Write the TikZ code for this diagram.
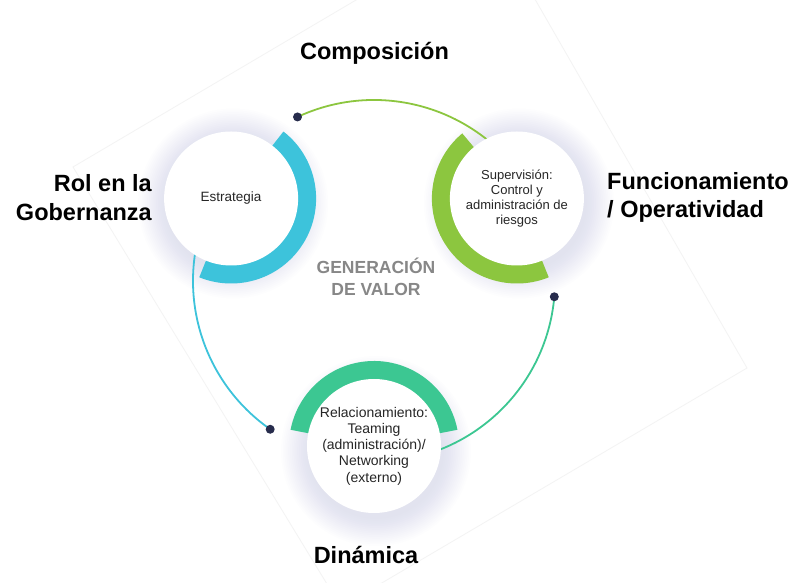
\documentclass[tikz,border=0pt]{standalone}
\usepackage{fontspec}
\setmainfont{Liberation Sans}
\definecolor{ringCyan}{HTML}{3DC3DB}
\definecolor{ringGreen}{HTML}{8CC63F}
\definecolor{ringTeal}{HTML}{3CC792}
\definecolor{dotNavy}{HTML}{272C4C}
\definecolor{glowLav}{HTML}{C9CCEA}
\definecolor{valGray}{HTML}{878787}
\definecolor{frameGray}{HTML}{F3F3F3}
\begin{document}
\begin{tikzpicture}[x=1pt,y=1pt,
  bubble/.style={circle, fill=white, minimum size=134pt, inner sep=0pt, align=center, text=black!85},
  heading/.style={font=\bfseries\fontsize{23.5}{28.5}\selectfont, text=black, inner sep=0pt},
  link/.style={line width=1.8pt},
  dotmark/.style={circle, fill=dotNavy, minimum size=9pt, inner sep=0pt},
]
\useasboundingbox (0,0) rectangle (797,583);
\clip (0,0) rectangle (797,583);
\fill[white] (0,0) rectangle (797,583);
% faint rotated frame
\draw[frameGray, line width=0.8pt] (73,416) -- (490,662) -- (747,215) -- (341,-24) -- cycle;
% geometry
\coordinate (O) at (374,302);
\coordinate (cE) at ([shift={(150:165)}]O);
\coordinate (cS) at ([shift={(30:165)}]O);
\coordinate (cR) at ([shift={(270:165)}]O);
% glows
\foreach \c in {cE,cS,cR}{
  \foreach \k in {1,...,16}{
    \fill[glowLav, opacity=0.035] ([xshift=2pt,yshift=-5pt]\c) circle[radius=66+1.8*\k];
  }
}
% connector arcs on the large circle
\draw[link, ringCyan] ([shift={(150:181)}]O) arc[start angle=150, end angle=235, radius=181];
\draw[link, ringGreen] ([shift={(30:181)}]O) arc[start angle=30, end angle=115, radius=181];
\draw[link, ringTeal] ([shift={(270:181)}]O) arc[start angle=270, end angle=355, radius=181];
\node[dotmark] (dE) at ([shift={(235:181)}]O) {};
\node[dotmark] (dS) at ([shift={(115:181)}]O) {};
\node[dotmark] (dR) at ([shift={(355:181)}]O) {};
% rings
\fill[ringCyan] ([shift={(52:85)}]cE) arc[start angle=52, end angle=-112, radius=85]
  -- ([shift={(-112:55)}]cE) arc[start angle=-112, end angle=52, radius=55] -- cycle;
\fill[ringGreen] ([shift={(130:85)}]cS) arc[start angle=130, end angle=292, radius=85]
  -- ([shift={(292:55)}]cS) arc[start angle=292, end angle=130, radius=55] -- cycle;
\fill[ringTeal] ([shift={(11:85)}]cR) arc[start angle=11, end angle=169, radius=85]
  -- ([shift={(169:55)}]cR) arc[start angle=169, end angle=11, radius=55] -- cycle;
% bubbles
\node[bubble, font=\fontsize{13.5}{15.5}\selectfont] (E) at (cE) {Estrategia};
\node[bubble, font=\fontsize{13}{15}\selectfont] (S) at (cS) {Supervisión:\\Control y\\administración de\\riesgos};
\node[bubble, font=\fontsize{14}{16.3}\selectfont] (R) at (cR) {Relacionamiento:\\Teaming\\(administración)/\\Networking\\(externo)};
% labels
\node[heading, anchor=base] (comp) at (374.5,523) {Composición};
\node[heading, align=right, anchor=east] (rol) at (152,385.5) {Rol en la\\Gobernanza};
\node[heading, align=left, anchor=west] (func) at (607,385.5) {Funcionamiento\\/ Operatividad};
\node[heading, anchor=base] (din) at (366,19.5) {Dinámica};
\node[font=\bfseries\fontsize{17.5}{22}\selectfont, text=valGray, align=center, inner sep=0pt] (gen) at (376,306) {GENERACIÓN\\DE VALOR};
\end{tikzpicture}
\end{document}
